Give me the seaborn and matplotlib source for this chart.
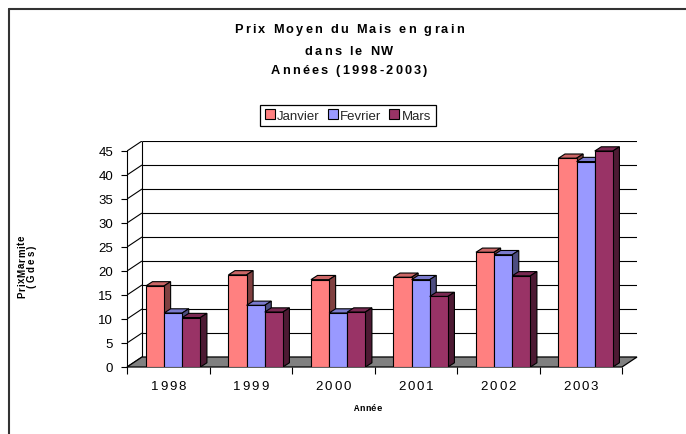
import matplotlib
matplotlib.use("Agg")
import numpy as np
import pandas as pd
import seaborn as sns
import matplotlib.pyplot as plt
import matplotlib.transforms as mtransforms
from matplotlib.patches import Polygon
from matplotlib.lines import Line2D
from matplotlib.font_manager import FontProperties
from matplotlib.colors import to_rgb

# ---------------- data ----------------
years = ["1998", "1999", "2000", "2001", "2002", "2003"]
months = ["Janvier", "Fevrier", "Mars"]
janvier = [16.9, 19.2, 18.2, 18.7, 23.9, 43.5]
fevrier = [11.25, 12.85, 11.25, 18.2, 23.4, 42.8]
mars = [10.3, 11.45, 11.45, 14.7, 19.0, 45.0]
colors = ["#FF8080", "#9999FF", "#993366"]
y_ticks = [0, 5, 10, 15, 20, 25, 30, 35, 40, 45]
title_lines = ["Prix Moyen du Mais en grain", "dans le NW", "Années (1998-2003)"]
ylabel_lines = ["PrixMarmite", "(Gdes)"]
xlabel_text = "Année"

df = pd.DataFrame({
    "Année": years * 3,
    "Mois": [m for m in months for _ in years],
    "Prix": janvier + fevrier + mars,
})

sns.set_theme(style="white")
plt.rcParams["font.family"] = ["Liberation Sans", "DejaVu Sans"]

W, H = 686, 435
fig = plt.figure(figsize=(W / 100, H / 100), dpi=100)


def fx(px):
    return px / W


def fy(py):
    return 1 - py / H


# geometry of the pseudo-3D frame (pixels)
X0, Y0 = 127, 368          # front-left-bottom corner
PX_CAT, PX_UNIT = 82.5, 4.8
WALL_DX, WALL_DY = 15, 10
BAR_DX, BAR_DY = 6.5, 4.2
ymax = y_ticks[-1]
n = len(years)
DXd = WALL_DX / PX_CAT
DYd = WALL_DY / PX_UNIT
bdx = BAR_DX / PX_CAT
bdy = BAR_DY / PX_UNIT

ax_w = (n + DXd) * PX_CAT
ax_h = (ymax + DYd) * PX_UNIT
ax = fig.add_axes([fx(X0), fy(Y0), ax_w / W, ax_h / H])
ax.set_facecolor("none")

sns.barplot(data=df, x="Année", y="Prix", hue="Mois", palette=colors,
            width=0.66, saturation=1, edgecolor="black", linewidth=0.8,
            ax=ax, legend=True)

ax.set_xlim(-0.5, n - 0.5 + DXd)
ax.set_ylim(0, ymax + DYd)

# walls
wall_kw = dict(color="black", lw=0.8, zorder=0.5, solid_capstyle="butt")
for v in y_ticks:
    ax.plot([-0.5 + DXd, n - 0.5 + DXd], [v + DYd, v + DYd], **wall_kw)
    ax.plot([-0.5, -0.5 + DXd], [v, v + DYd], **wall_kw)
ax.plot([-0.5 + DXd, -0.5 + DXd], [DYd, ymax + DYd], **wall_kw)

# floor
floor = Polygon([(-0.5, 0), (n - 0.5, 0), (n - 0.5 + DXd, DYd), (-0.5 + DXd, DYd)],
                closed=True, facecolor="#808080", edgecolor="black", lw=0.9,
                zorder=1, clip_on=False)
ax.add_patch(floor)

# 3D faces for bars
shift = 0.06
for i, cont in enumerate(ax.containers):
    base = np.array(to_rgb(colors[i]))
    for p in cont:
        p.set_x(p.get_x() + shift)
        bx, bw, bh = p.get_x(), p.get_width(), p.get_height()
        top = Polygon([(bx, bh), (bx + bw, bh), (bx + bw + bdx, bh + bdy), (bx + bdx, bh + bdy)],
                      closed=True, facecolor=base * 0.8, edgecolor="black", lw=0.8,
                      zorder=3 + i)
        side = Polygon([(bx + bw, 0), (bx + bw + bdx, bdy), (bx + bw + bdx, bh + bdy), (bx + bw, bh)],
                       closed=True, facecolor=base * 0.5, edgecolor="black", lw=0.8,
                       zorder=3 + i)
        ax.add_patch(top)
        ax.add_patch(side)
        p.set_zorder(3.5 + i)

# axes styling
for s in ["top", "right", "bottom"]:
    ax.spines[s].set_visible(False)
ax.spines["left"].set_bounds(0, ymax)
ax.spines["left"].set_color("black")
ax.spines["left"].set_linewidth(0.8)
ax.set_yticks(y_ticks)
ax.set_yticklabels([str(v) for v in y_ticks])
ax.tick_params(axis="y", length=4, width=0.8, direction="out", pad=6,
               labelsize=9.5, colors="black", left=True)
ax.set_xticks(range(n))
ax.set_xticklabels([""] * n)
ax.set_xticks([k - 0.5 for k in range(n + 1)], minor=True)
ax.tick_params(axis="x", which="major", length=0)
ax.tick_params(axis="x", which="minor", length=5, width=0.8, direction="out",
               colors="black", bottom=True)
ax.set_xlabel("")
ax.set_ylabel("")
ax.grid(False)

# legend
handles, labels = ax.get_legend_handles_labels()
if ax.legend_ is not None:
    ax.legend_.remove()
leg = fig.legend(handles, labels, loc="center", bbox_to_anchor=(fx(348), fy(116.5)),
                 ncol=3, frameon=True, fancybox=False, edgecolor="black",
                 framealpha=1, fontsize=9.5, handlelength=0.75, handleheight=0.75,
                 handletextpad=0.2, columnspacing=0.6, borderpad=0.35,
                 borderaxespad=0)
leg.get_frame().set_linewidth(0.9)

# tracked text helper
renderer = fig.canvas.get_renderer()


def text_w(s, fp):
    w, h, d = renderer.get_text_width_height_descent(s, fp, ismath=False)
    return w


def char_w(ch, fp):
    return text_w("|" + ch + "|", fp) - text_w("||", fp)


def tracked(s, x, y, transform, size, weight="normal", track=0.0, ha="center",
            rotation=0, family=None):
    fp = FontProperties(family=family or ["Liberation Sans", "DejaVu Sans"],
                        size=size, weight=weight)
    widths = [char_w(c, fp) for c in s]
    total = sum(widths) + track * (len(s) - 1)
    pos = {"left": 0.0, "center": -total / 2, "right": -total}[ha]
    for c, w in zip(s, widths):
        if c != " ":
            if rotation == 0:
                tr = transform + mtransforms.Affine2D().translate(pos, 0)
            else:
                tr = transform + mtransforms.Affine2D().translate(0, pos)
            fig.text(x, y, c, transform=tr, fontproperties=fp, ha="left",
                     va="baseline", rotation=rotation, rotation_mode="anchor",
                     color="black")
        pos += w + track


# title
for line, base_y in zip(title_lines, [33.3, 55.0, 74.0]):
    tracked(line, fx(349), fy(base_y), fig.transFigure, 9.2, weight="bold", track=2.2)

# x tick labels
xt = mtransforms.blended_transform_factory(ax.transData, fig.transFigure)
for k, yr in enumerate(years):
    tracked(yr, k, fy(390), xt, 9.5, track=1.8)

# x label
tracked(xlabel_text, fx(368), fy(411.5), fig.transFigure, 6.5, weight="bold",
        track=0.2, family=["Liberation Mono", "DejaVu Sans Mono"])

# y label
tracked(ylabel_lines[0], fx(25.0), fy(266.5), fig.transFigure, 7, weight="bold",
        track=0.7, rotation=90)
tracked(ylabel_lines[1], fx(34.5), fy(266.5), fig.transFigure, 7, weight="bold",
        track=2.2, rotation=90)

# outer frame
fig.add_artist(Line2D([fx(9), 1], [fy(10), fy(10)], transform=fig.transFigure,
                      color="#333333", lw=1.5))
fig.add_artist(Line2D([fx(9), fx(9)], [fy(10), 0], transform=fig.transFigure,
                      color="#333333", lw=1.5))

fig.savefig("out.png", dpi=100)
